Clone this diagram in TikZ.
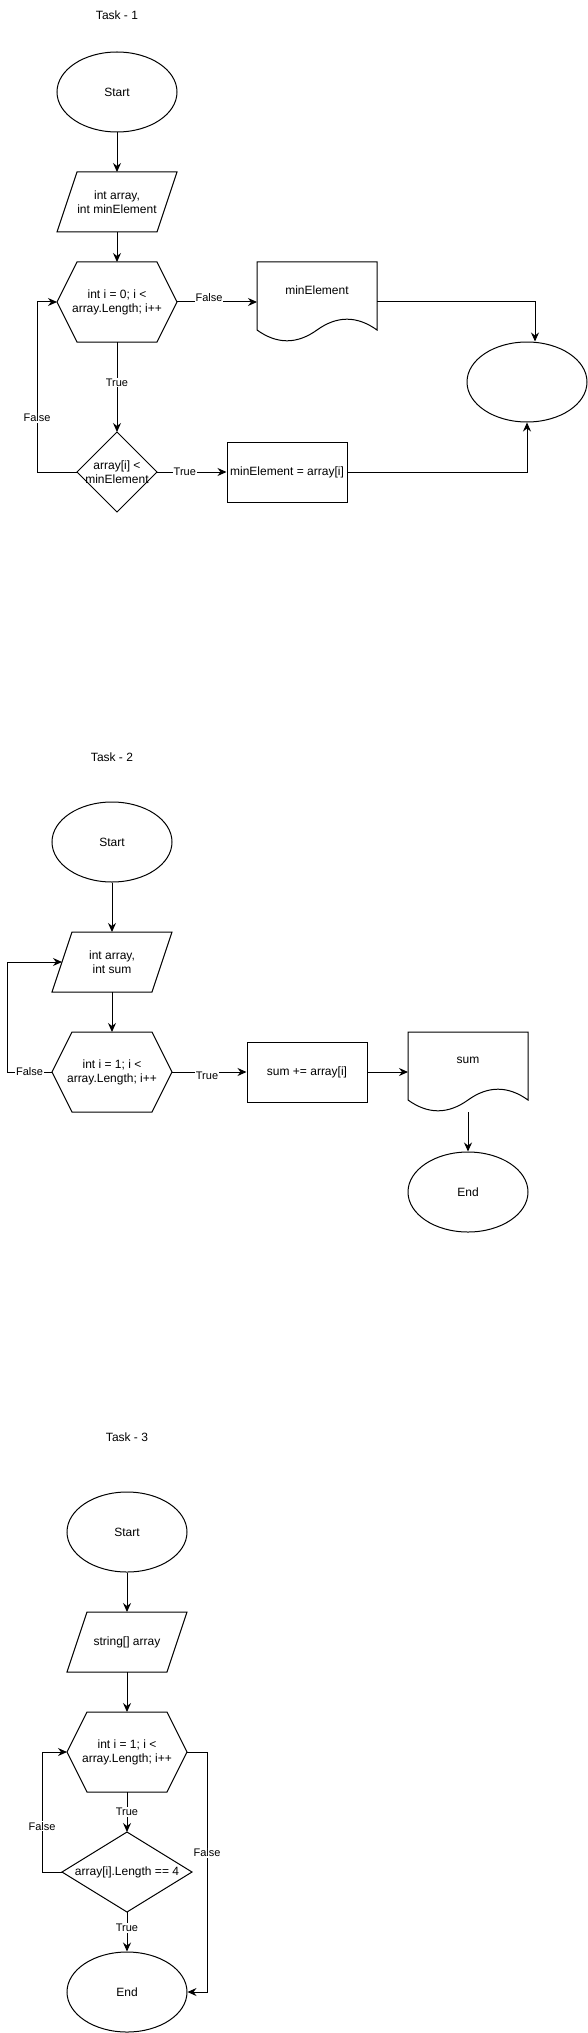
\documentclass[tikz,border=0pt]{standalone}
\usepackage{fontspec}
\setmainfont{Liberation Sans}
\usetikzlibrary{shapes.geometric,arrows.meta}

\tikzset{
  term/.style={ellipse,draw,minimum width=120pt,minimum height=80pt,inner sep=0pt},
  proc/.style={draw,minimum width=120pt,minimum height=60pt,inner sep=0pt},
  iobox/.style={minimum width=120pt,minimum height=60pt,inner sep=0pt,outer sep=0pt},
  loopbox/.style={minimum width=120pt,minimum height=80pt,inner sep=0pt,outer sep=0pt},
  docbox/.style={minimum width=120pt,minimum height=80pt,inner sep=0pt,outer sep=0pt},
  testbox/.style={minimum width=80pt,minimum height=80pt,inner sep=0pt,outer sep=0pt},
  lbl/.style={fill=white,inner sep=1pt,font=\fontsize{11}{13}\selectfont},
  flow/.style={-{Stealth[length=9pt,width=8pt,inset=3pt]}},
  docwave/.pic={\draw (0,0) -- (120,0) -- (120,68) .. controls (100,53.6) and (80,53.6) .. (60,68)
    .. controls (40,82.4) and (20,82.4) .. (0,68) -- cycle;},
}

\begin{document}
\begin{tikzpicture}[x=1pt,y=-1pt,line width=1pt,
  every node/.style={font=\fontsize{12}{14}\selectfont,align=center}]
\useasboundingbox (0,0) rectangle (588,2033);

% Task 1
\node (titleA) at (117,15) {Task - 1};
\node[term] (startA) at (117,92) {Start};
\node[iobox] (inA) at (117,202) {int array,\\int minElement};
\node[loopbox] (loopA) at (117,302) {int i = 0; i <\\array.Length; i++};
\node[docbox,label={[yshift=12pt]center:minElement}] (docA) at (317,302) {};
\node[term] (endA) at (527,382) {};
\node[testbox] (testA) at (117,472) {array[i] <\\minElement};
\node[proc] (setA) at (287,472) {minElement = array[i]};

\draw[flow] (startA.south) -- (inA.north);
\draw[flow] (inA.south) -- (loopA.north);
\draw[flow] (loopA.east) -- node[lbl,pos=.4,yshift=4pt]{False} (docA.west);
\draw[flow] (docA.east) -| ([xshift=8pt]endA.north);
\draw[flow] (loopA.south) -- node[lbl,pos=.45]{True} (testA.north);
\draw[flow] (testA.east) -- node[lbl,pos=.4]{True} (setA.west);
\draw[flow] (setA.east) -| (endA.south);
\draw[flow] (testA.west) -- ++(-40,0) |- node[lbl,pos=.16]{False} (loopA.west);

% Task 2
\node (titleB) at (112,757) {Task - 2};
\node[term] (startB) at (112,842) {Start};
\node[iobox] (inB) at (112,962) {int array,\\int sum};
\node[loopbox] (loopB) at (112,1072) {int i = 1; i <\\array.Length; i++};
\node[proc] (setB) at (307,1072) {sum += array[i]};
\node[docbox,label={[yshift=12pt]center:sum}] (docB) at (468,1072) {};
\node[term] (endB) at (468,1192) {End};

\draw[flow] (startB.south) -- (inB.north);
\draw[flow] (inB.south) -- (loopB.north);
\draw[flow] (loopB.west) -- node[lbl]{False} ++(-45,0) |- ([xshift=10pt]inB.west);
\draw[flow] (loopB.east) -- node[lbl,pos=.47,yshift=-4pt]{True} (setB.west);
\draw[flow] (setB.east) -- (docB.west);
\draw[flow] (docB.south) -- (endB.north);

% Task 3
\node (titleC) at (127,1437) {Task - 3};
\node[term] (startC) at (127,1532) {Start};
\node[iobox] (inC) at (127,1642) {string[] array};
\node[loopbox] (loopC) at (127,1752) {int i = 1; i <\\array.Length; i++};
\node[testbox,minimum width=130pt] (testC) at (127,1872) {array[i].Length == 4};
\node[term] (endC) at (127,1992) {End};

\draw[flow] (startC.south) -- (inC.north);
\draw[flow] (inC.south) -- (loopC.north);
\draw[flow] (loopC.south) -- node[lbl]{True} (testC.north);
\draw[flow] (testC.south) -- node[lbl,pos=.4]{True} (endC.north);
\draw[flow] (testC.west) -- ++(-20,0) |- node[lbl,pos=.19]{False} (loopC.west);
\draw[flow] (loopC.east) -- ++(20,0) |- node[lbl,pos=.21]{False} (endC.east);

% outlines
\foreach \n in {inA,inB,inC}
  \draw ([xshift=20pt]\n.north west) -- (\n.north east) -- ([xshift=-20pt]\n.south east) -- (\n.south west) -- cycle;
\foreach \n in {loopA,loopB,loopC}
  \draw ([xshift=20pt]\n.north west) -- ([xshift=-20pt]\n.north east) -- (\n.east)
    -- ([xshift=-20pt]\n.south east) -- ([xshift=20pt]\n.south west) -- (\n.west) -- cycle;
\foreach \n in {testA,testC}
  \draw (\n.north) -- (\n.east) -- (\n.south) -- (\n.west) -- cycle;
\foreach \n in {docA,docB}
  \pic at (\n.north west) {docwave};
\end{tikzpicture}
\end{document}
